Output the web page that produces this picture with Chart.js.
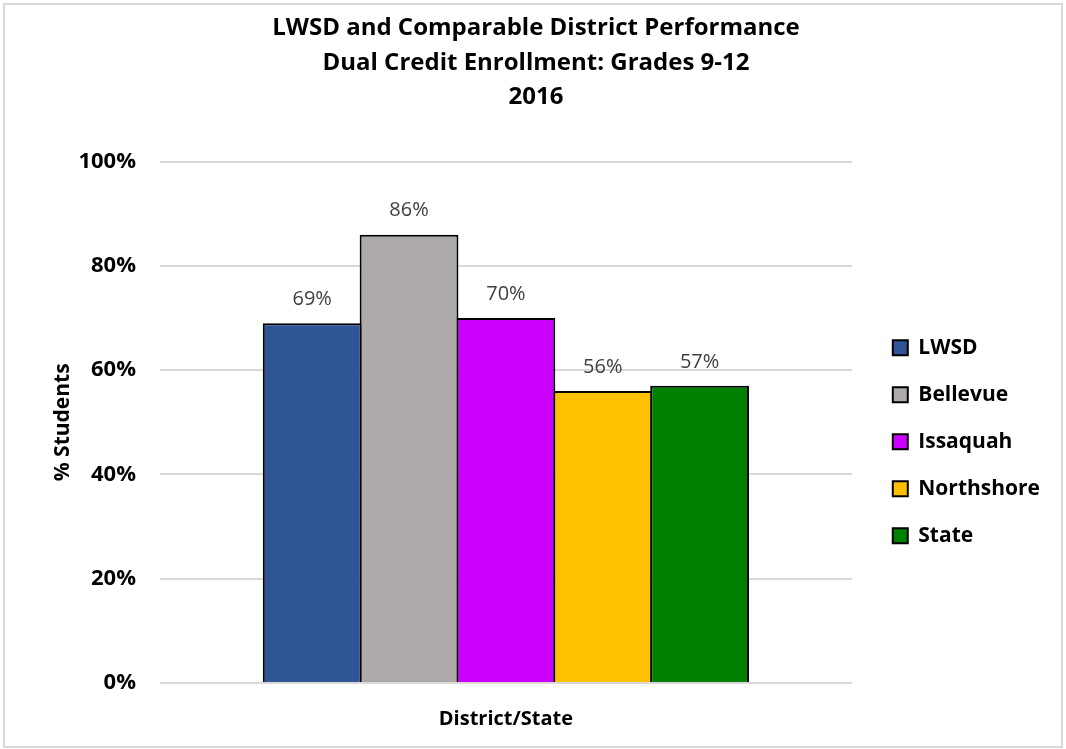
<!DOCTYPE html>
<html>
<head>
<meta charset="utf-8">
<script src="https://cdn.jsdelivr.net/npm/chart.js@4.4.1/dist/chart.umd.min.js"></script>
<style>
  html, body { margin: 0; padding: 0; background: #fff; }
  #wrap { position: relative; width: 1066px; height: 749px; }
  #frame { position: absolute; left: 3px; top: 3px; right: 3px; bottom: 1px;
           border: 2px solid #d9d9d9; pointer-events: none; }
</style>
</head>
<body>
<div id="wrap">
  <canvas id="chart"></canvas>
  <div id="frame"></div>
</div>
<script>
const categories = ['District/State'];
const seriesNames = ['LWSD', 'Bellevue', 'Issaquah', 'Northshore', 'State'];
const seriesValues = [[69], [86], [70], [56], [57]];
const seriesColors = ['#2F5597', '#AEAAAA', '#CC00FF', '#FFC000', '#008000'];
const yTicks = [0, 20, 40, 60, 80, 100];

const FONT = "'Open Sans', 'Noto Sans', sans-serif";

// value labels above the bars
const barLabels = {
  id: 'barLabels',
  afterDatasetsDraw(chart) {
    const ctx = chart.ctx;
    ctx.save();
    ctx.font = '20px ' + FONT;
    ctx.fillStyle = '#404040';
    ctx.textAlign = 'center';
    ctx.textBaseline = 'bottom';
    chart.data.datasets.forEach((ds, i) => {
      chart.getDatasetMeta(i).data.forEach((bar, j) => {
        ctx.fillText(ds.data[j] + '%', bar.x, bar.y - 14);
      });
    });
    ctx.restore();
  }
};

// push the legend a bit further away from the plot
const legendShift = {
  id: 'legendShift',
  afterLayout(chart) {
    chart.legend.left += 15;
    chart.legend.right += 15;
  }
};

new Chart(document.getElementById('chart'), {
  type: 'bar',
  data: {
    labels: categories,
    datasets: seriesNames.map((name, i) => ({
      label: name,
      data: seriesValues[i],
      backgroundColor: seriesColors[i],
      borderColor: '#000',
      borderWidth: { top: 2, bottom: 0, left: 2, right: 2 },
      borderSkipped: false,
      categoryPercentage: 0.7,
      // slight overlap so neighbouring bars share a single edge line
      barPercentage: 1.02,
    })),
  },
  options: {
    responsive: true,
    maintainAspectRatio: false,
    animation: false,
    layout: { padding: { left: 37, right: 31, top: 0, bottom: 14 } },
    plugins: {
      title: {
        display: true,
        text: ['LWSD and Comparable District Performance', 'Dual Credit Enrollment: Grades 9-12', '2016'],
        color: '#000',
        font: { family: FONT, size: 24, weight: 'bold', lineHeight: 1.44 },
        padding: { top: 11, bottom: 47 },
      },
      legend: {
        position: 'right',
        title: { display: true, text: ' ', padding: { top: 134, bottom: 0 } },
        labels: {
          color: '#000',
          font: { family: FONT, size: 21, weight: 'bold' },
          boxWidth: 15,
          boxHeight: 15,
          padding: 26,
          generateLabels(chart) {
            return chart.data.datasets.map((ds, i) => ({
              text: ds.label,
              fillStyle: ds.backgroundColor,
              strokeStyle: '#000',
              lineWidth: 2,
              datasetIndex: i,
              fontColor: '#000',
            }));
          },
        },
      },
      tooltip: { enabled: false },
    },
    scales: {
      x: {
        grid: { display: false },
        border: { display: false },
        ticks: { display: false },
        title: {
          display: true,
          text: 'District/State',
          color: '#000',
          font: { family: FONT, size: 20, weight: 'bold' },
          padding: { top: 16 },
        },
      },
      y: {
        min: 0,
        max: 100,
        afterBuildTicks(axis) { axis.ticks = yTicks.map(v => ({ value: v })); },
        afterFit(axis) { axis.width = 123; },
        grid: { color: '#d9d9d9', lineWidth: 2, drawTicks: false },
        border: { display: false },
        ticks: {
          color: '#000',
          padding: 24,
          font: { family: FONT, size: 22, weight: 'bold' },
          callback: v => v + '%',
        },
        title: {
          display: true,
          text: '% Students',
          color: '#000',
          font: { family: FONT, size: 21, weight: 'bold' },
          padding: { top: 13, bottom: 3 },
        },
      },
    },
  },
  plugins: [barLabels, legendShift],
});
</script>
</body>
</html>
